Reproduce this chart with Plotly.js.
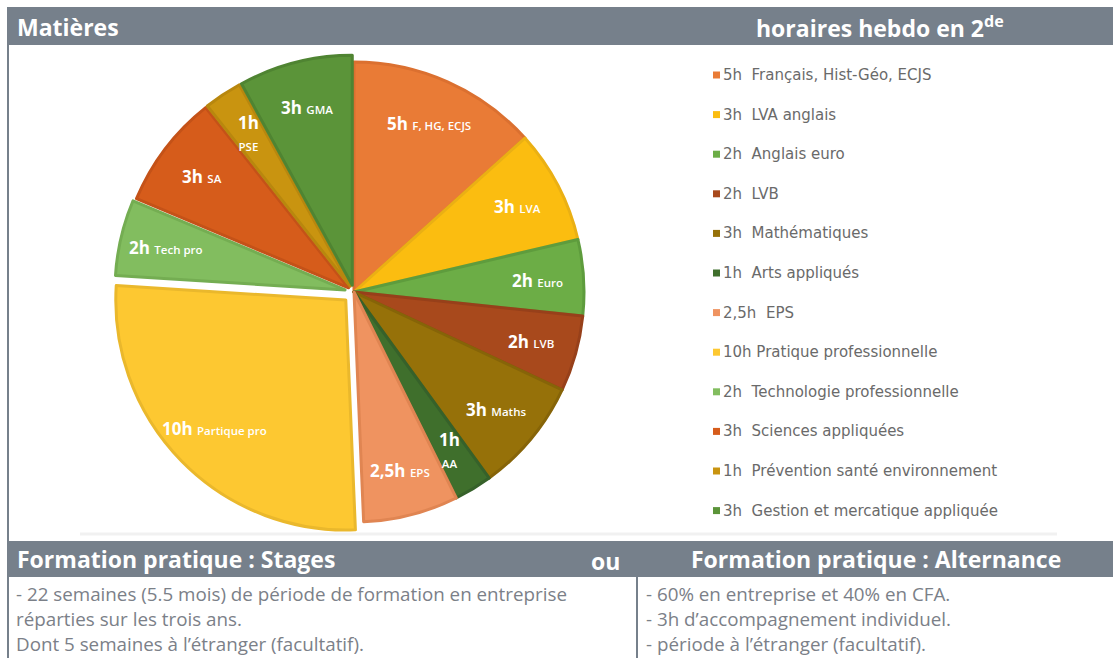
<!DOCTYPE html>
<html><head><meta charset="utf-8">
<script src="https://cdn.plot.ly/plotly-3.0.1.min.js"></script>
<style>html,body{margin:0;padding:0;background:#fff;overflow:hidden}</style>
</head><body><div id="chart" style="width:1113px;height:658px"></div>
<script>
// ---- data ----
const hours = [5, 3, 2, 2, 3, 1, 2.5, 10, 2, 3, 1, 3];
const hourLabels = ["5h", "3h", "2h", "2h", "3h", "1h", "2,5h", "10h", "2h", "3h", "1h", "3h"];
const shortNames = ["F, HG, ECJS", "LVA", "Euro", "LVB", "Maths", "AA", "EPS", "Partique pro", "Tech pro", "SA", "PSE", "GMA"];
const subjects = ["Français, Hist-Géo, ECJS", "LVA anglais", "Anglais euro", "LVB", "Mathématiques", "Arts appliqués", "EPS", "Pratique professionnelle", "Technologie professionnelle", "Sciences appliquées", "Prévention santé environnement", "Gestion et mercatique appliquée"];
const twoLineLabel = [false, false, false, false, false, true, false, false, false, false, true, false];
const stagesLines = ["- 22 semaines (5.5 mois) de période de formation en entreprise", "réparties sur les trois ans.", "Dont 5 semaines à l’étranger (facultatif)."];
const alternanceLines = ["- 60% en entreprise et 40% en CFA.", "- 3h d’accompagnement individuel.", "- période à l’étranger (facultatif)."];

// ---- styles ----
const sliceColors = ["#E97B36", "#FBBD10", "#6CAD46", "#A8491C", "#967109", "#3F6F2C", "#EF9360", "#FDC831", "#82BD5F", "#D65C1B", "#C99410", "#5B9439"];
const borderColors = ["#DB7030", "#EAB014", "#5E9C3D", "#97401A", "#866408", "#36612A", "#E08552", "#EAB82C", "#74AD52", "#C45218", "#B8870E", "#4F8432"];
const pulls = [0, 0, 0, 0, 0, 0, 0, 0.05, 0.04, 0.03, 0.03, 0.03];

const W = 1113, H = 658;
const PX = x => x / W, PY = y => 1 - y / H;
const cx = 354, cy = 292, R = 230;
const maxPull = Math.max(...pulls);
const half = R * (1 + maxPull);

const pie = {
  type: "pie",
  values: hours,
  labels: subjects,
  sort: false,
  direction: "clockwise",
  rotation: 0,
  pull: pulls,
  textinfo: "none",
  hoverinfo: "label+value",
  showlegend: false,
  marker: { colors: sliceColors, line: { color: borderColors, width: 3 } },
  domain: { x: [(cx - half) / W, (cx + half) / W], y: [PY(cy + half), PY(cy - half)] }
};

const gray = "#76808B";
const shapes = [];
const annotations = [];
// header bars
shapes.push({ type: "rect", xref: "paper", yref: "paper", x0: PX(7), x1: PX(1113), y0: PY(45), y1: PY(7), fillcolor: gray, line: { width: 0 }, layer: "below" });
shapes.push({ type: "rect", xref: "paper", yref: "paper", x0: PX(7), x1: PX(1113), y0: PY(577), y1: PY(541), fillcolor: gray, line: { width: 0 }, layer: "below" });
// border lines
[[8, 45, 8, 541], [8, 577, 8, 658], [637, 577, 637, 658]].forEach(l => shapes.push({ type: "line", xref: "paper", yref: "paper", x0: PX(l[0]), y0: PY(l[1]), x1: PX(l[2]), y1: PY(l[3]), line: { color: gray, width: 2 } }));
// faint shadow line
shapes.push({ type: "line", xref: "paper", yref: "paper", x0: PX(80), x1: PX(1057), y0: PY(534), y1: PY(534), line: { color: "#F1F1F1", width: 3 }, layer: "below" });

const hdrFont = { family: "Open Sans, sans-serif", size: 23, color: "#FFFFFF", weight: 700 };
function txt(x, y, text, font, xanchor) {
  annotations.push({ xref: "paper", yref: "paper", x: PX(x), y: PY(y), text: text, showarrow: false, xanchor: xanchor || "left", yanchor: "middle", font: font });
}
txt(15, 27, "<b>Matières</b>", hdrFont);
txt(754, 27, "<b>horaires hebdo en 2<sup>de</sup></b>", hdrFont);
txt(15, 559, "<b>Formation pratique : Stages</b>", hdrFont);
txt(589, 561, "<b>ou</b>", hdrFont);
txt(689, 559, "<b>Formation pratique : Alternance</b>", hdrFont);

const bodyFont = { family: "Open Sans, sans-serif", size: 18.8, color: "#7B8088" };
stagesLines.forEach((s, i) => txt(14, 594 + i * 25, s, bodyFont));
alternanceLines.forEach((s, i) => txt(644, 594 + i * 25, s, bodyFont));

// legend (built from data arrays)
const legFont = { family: "DejaVu Sans", size: 15, color: "#6A6A6A" };
subjects.forEach((s, i) => {
  const y = 75 + i * 39.6;
  shapes.push({ type: "rect", xref: "paper", yref: "paper", x0: PX(713), x1: PX(720), y0: PY(y + 3.5), y1: PY(y - 3.5), fillcolor: sliceColors[i], line: { width: 0 } });
  const sep = hourLabels[i] === "10h" ? "\u00a0" : "\u00a0\u00a0";
  txt(721, y, hourLabels[i] + sep + s, legFont);
});

// slice labels positioned from the cumulative data
const total = hours.reduce((a, b) => a + b, 0);
let cum = 0;
hours.forEach((v, i) => {
  const mid = (cum + v / 2) / total * 2 * Math.PI;
  cum += v;
  const rr = R * (0.8 + pulls[i]);
  const x = cx + rr * Math.sin(mid), y = cy - rr * Math.cos(mid);
  const sep = twoLineLabel[i] ? "<br>" : " ";
  annotations.push({
    xref: "paper", yref: "paper", x: PX(x), y: PY(y), showarrow: false, xanchor: "center", yanchor: "middle",
    text: "<b>" + hourLabels[i] + "</b>" + sep + "<span style='font-size:11.5px'>" + shortNames[i] + "</span>",
    font: { family: "Open Sans, sans-serif", size: 17, color: "#FFFFFF", weight: 600 }
  });
});

const layout = {
  width: W, height: H,
  margin: { l: 0, r: 0, t: 0, b: 0 },
  paper_bgcolor: "#FFFFFF",
  plot_bgcolor: "#FFFFFF",
  showlegend: false,
  shapes: shapes,
  annotations: annotations
};
Plotly.newPlot("chart", [pie], layout, { displayModeBar: false, staticPlot: true });
</script></body></html>
